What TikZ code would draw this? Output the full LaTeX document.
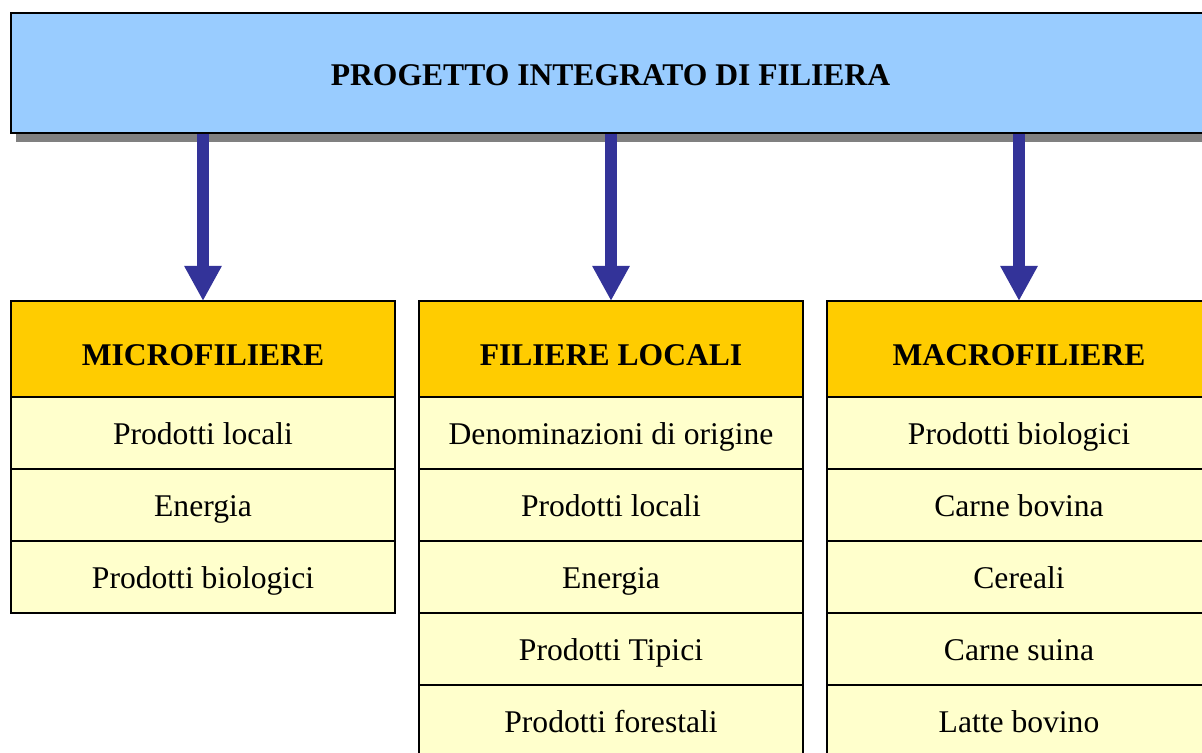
\documentclass[tikz,border=0pt]{standalone}
\usepackage{fontspec}
\setmainfont{Liberation Serif}
\usetikzlibrary{arrows.meta,positioning,shadows}

\definecolor{bannerblue}{HTML}{99CCFF}
\definecolor{headgold}{HTML}{FFCC00}
\definecolor{rowcream}{HTML}{FFFFCC}
\definecolor{arrowblue}{HTML}{333399}

\begin{document}
\begin{tikzpicture}[x=0.5pt,y=-0.5pt,node distance=0pt,
      font=\fontsize{15.8}{19}\selectfont,
      banner/.style={draw=black,line width=1pt,fill=bannerblue,
        minimum width=599.5pt,minimum height=60pt,
        text height=17pt,text depth=4pt,
        font=\fontsize{15.8}{19}\selectfont\bfseries,
        drop shadow={shadow xshift=2.5pt,shadow yshift=-4.5pt,opacity=1,fill=black!50}},
      head/.style={draw=black,line width=0.7pt,fill=headgold,outer sep=0pt,
        minimum width=192pt,minimum height=48pt,
        text height=20pt,text depth=4pt,
        font=\fontsize{15.8}{19}\selectfont\bfseries},
      item/.style={draw=black,line width=0.7pt,fill=rowcream,outer sep=0pt,
        minimum width=192pt,minimum height=36pt,
        text height=15pt,text depth=4pt},
      down/.style={arrowblue,line width=6pt,-{Triangle[width=17.5pt,length=17.5pt]}}]
    \useasboundingbox (0,0) rectangle (1202,753);
    \node[banner] (pif) at (610.5,73) {PROGETTO INTEGRATO DI FILIERA};
    % three columns
    \node[head] (micro) at (203,349) {MICROFILIERE};
    \node[item] (micro1) [below=of micro] {Prodotti locali};
    \node[item] (micro2) [below=of micro1] {Energia};
    \node[item] (micro3) [below=of micro2] {Prodotti biologici};
    \node[head] (loc) at (611,349) {FILIERE LOCALI};
    \node[item] (loc1) [below=of loc] {Denominazioni di origine};
    \node[item] (loc2) [below=of loc1] {Prodotti locali};
    \node[item] (loc3) [below=of loc2] {Energia};
    \node[item] (loc4) [below=of loc3] {Prodotti Tipici};
    \node[item] (loc5) [below=of loc4] {Prodotti forestali};
    \node[head] (macro) at (1019,349) {MACROFILIERE};
    \node[item] (macro1) [below=of macro] {Prodotti biologici};
    \node[item] (macro2) [below=of macro1] {Carne bovina};
    \node[item] (macro3) [below=of macro2] {Cereali};
    \node[item] (macro4) [below=of macro3] {Carne suina};
    \node[item] (macro5) [below=of macro4] {Latte bovino};
    % arrows
    \foreach \col in {micro,loc,macro}
      \draw[down] (pif.south -| \col.north) -- (\col.north);
  \end{tikzpicture}
\end{document}
